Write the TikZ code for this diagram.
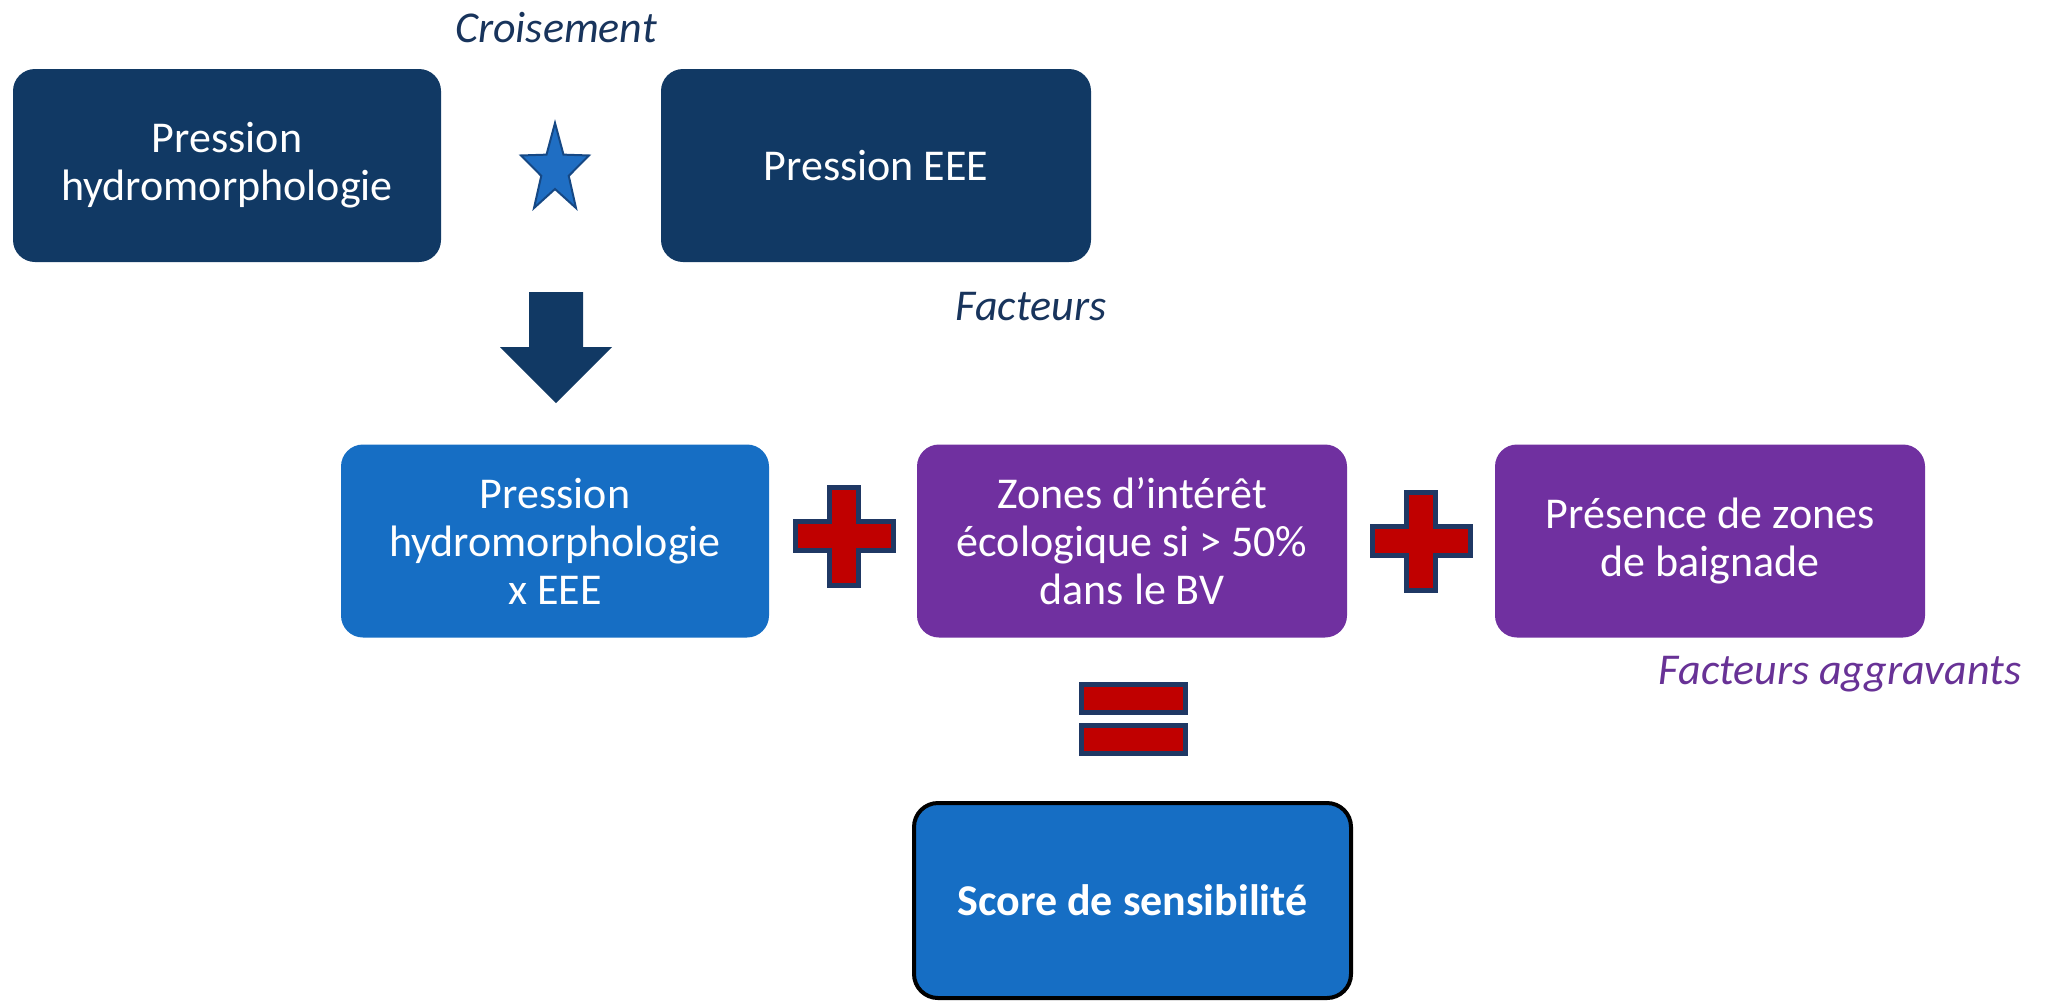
\documentclass[tikz,border=0pt]{standalone}
\usepackage{fontspec}
\setmainfont{Carlito}
\usetikzlibrary{positioning}

\definecolor{navyfill}{RGB}{17,57,100}
\definecolor{midblue}{RGB}{22,110,196}
\definecolor{violet}{RGB}{112,48,160}
\definecolor{redfill}{RGB}{192,0,0}
\definecolor{navyline}{RGB}{31,56,100}
\definecolor{starfill}{RGB}{31,110,195}
\definecolor{starline}{RGB}{22,72,132}
\definecolor{labelnavy}{RGB}{24,52,92}
\definecolor{labelviolet}{RGB}{104,50,150}

\tikzset{
  boxtext/.style={text=white, align=center, inner sep=0pt,
    font=\fontsize{22pt}{24pt}\selectfont},
  basebox/.style={boxtext, rounded corners=11pt,
    minimum width=214pt, minimum height=96.5pt},
  navybox/.style={basebox, fill=navyfill},
  bluebox/.style={basebox, fill=midblue},
  violetbox/.style={basebox, fill=violet, minimum width=215pt},
  resultbox/.style={boxtext, fill=midblue, draw=black, line width=2pt,
    rounded corners=12pt, minimum width=218.5pt, minimum height=97.5pt,
    font=\fontsize{22pt}{24pt}\selectfont\bfseries},
  caption/.style={inner sep=0pt, anchor=base,
    font=\fontsize{22pt}{24pt}\selectfont\itshape},
  opsign/.style={fill=redfill, draw=navyline, line width=2.5pt, line join=miter},
  plussign/.pic={
    \path[opsign] (-14.5,-49) -- (14.5,-49) -- (14.5,-14.5) -- (49,-14.5)
      -- (49,14.5) -- (14.5,14.5) -- (14.5,49) -- (-14.5,49) -- (-14.5,14.5)
      -- (-49,14.5) -- (-49,-14.5) -- (-14.5,-14.5) -- cycle;
  }
}

\begin{document}
\begin{tikzpicture}[x=0.5pt, y=-0.5pt]
  \useasboundingbox (0,0) rectangle (2054,1002);

  % first row: the two pressures that are crossed
  \node[navybox] (hydro) at (227,165.5) {Pression\\hydromorphologie};
  \node[navybox, minimum width=215pt] (eee) at (876,165.5) {Pression EEE};
  \node[caption, text=labelnavy] (croisement) at (556,42) {Croisement};
  \node[caption, text=labelnavy] (facteurs) at (1031,320) {Facteurs};

  % star between the two pressures
  \begin{scope}[shift={(555,170)}, xscale=0.76, yscale=-1]
    \path[fill=starfill, draw=starline, line width=1pt, line join=miter]
      (90:47) -- (126:19) -- (162:47) -- (198:19) -- (234:47) -- (270:19)
      -- (306:47) -- (342:19) -- (18:47) -- (54:19) -- cycle;
  \end{scope}

  % block arrow down to the combined pressure
  \path[fill=navyfill] (529,292) -- (583,292) -- (583,347) -- (612,347)
    -- (556,403) -- (500,347) -- (529,347) -- cycle;

  % second row: combined pressure plus aggravating factors
  \node[bluebox] (combined) at (555,541) {Pression\\hydromorphologie\\x EEE};
  \node[violetbox] (zones) at (1132,541) {Zones d’intérêt\\écologique si > 50\%\\dans le BV};
  \node[violetbox] (baignade) at (1710,541) {Présence de zones\\de baignade};
  \node[caption, text=labelviolet] (aggravants) at (1840,684) {Facteurs aggravants};

  \pic at (844,536) {plussign};
  \pic at (1421,541) {plussign};

  % equals sign
  \path[opsign] (1081.5,684.5) rectangle (1185.5,712.5);
  \path[opsign] (1081.5,725.5) rectangle (1185.5,753.5);

  % result
  \node[resultbox] (score) at (1132.5,900.5) {Score de sensibilité};
\end{tikzpicture}
\end{document}
